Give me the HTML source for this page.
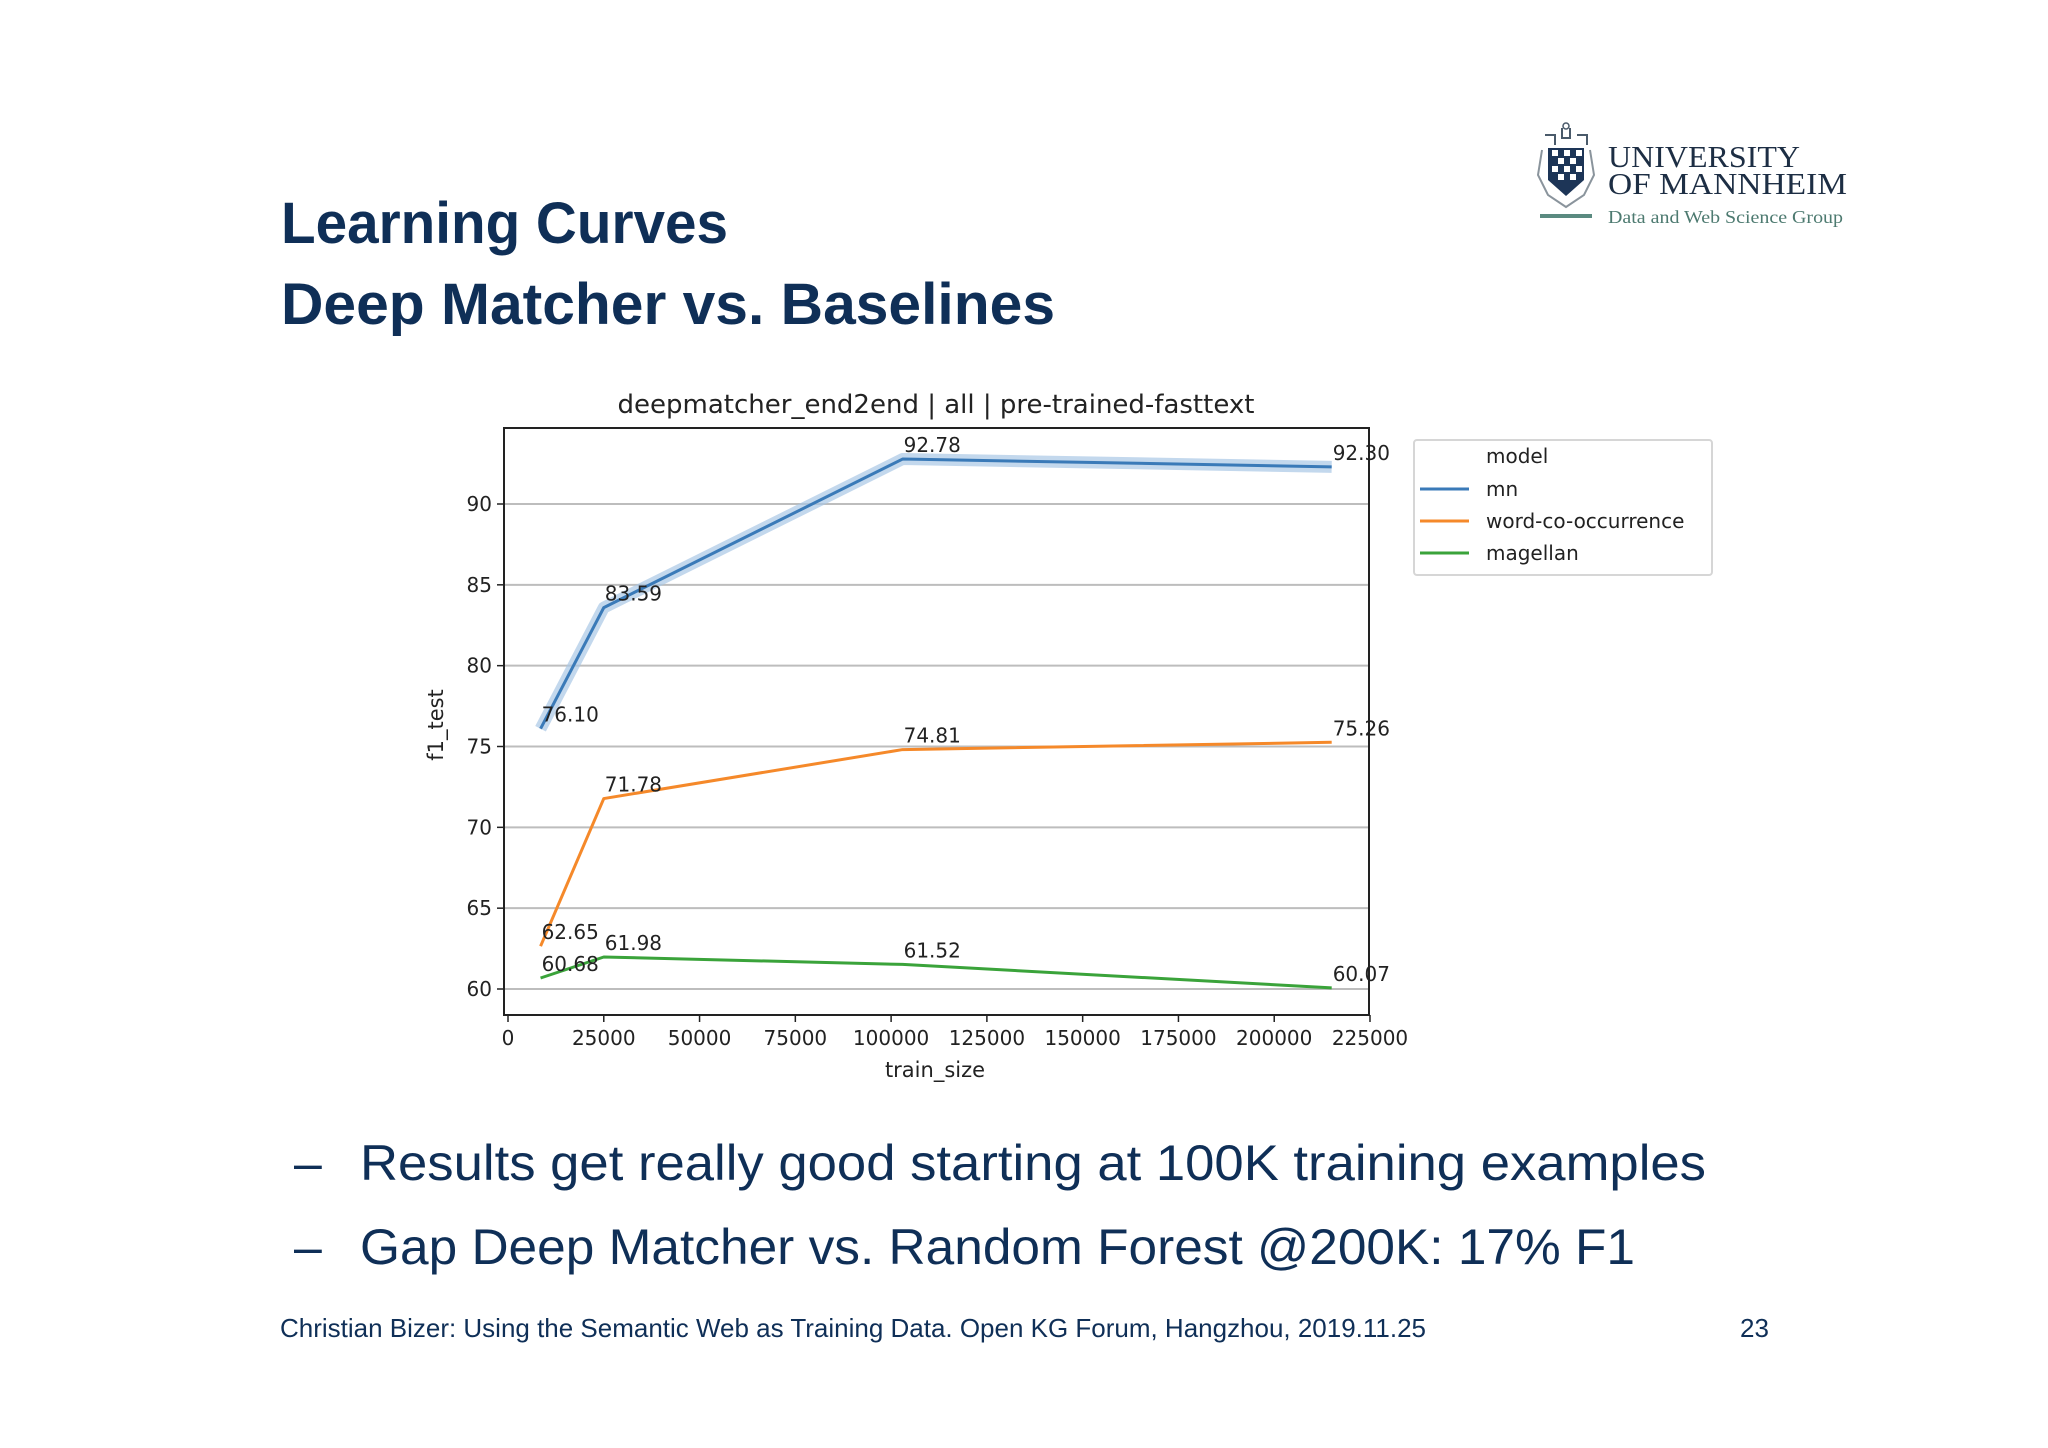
<!DOCTYPE html>
<html><head><meta charset="utf-8"><style>
html,body{margin:0;padding:0;background:#fff;}
svg{display:block;}
</style></head><body>
<svg id="slide" width="2048" height="1448" viewBox="0 0 2048 1448" xmlns="http://www.w3.org/2000/svg">
<rect width="2048" height="1448" fill="#fff"/>
<g>
  <g>
    <path d="M1542 150 L1538 175 L1548 195 L1566 207 L1584 195 L1594 175 L1590 150" fill="none" stroke="#8a949c" stroke-width="2"/>
    <path d="M1548 148 L1584 148 L1584 180 L1566 196 L1548 180 Z" fill="#1d3557"/>
    <g fill="#fff">
      <rect x="1552" y="150" width="6" height="6"/><rect x="1564" y="150" width="6" height="6"/><rect x="1576" y="150" width="6" height="6"/>
      <rect x="1558" y="158" width="6" height="6"/><rect x="1570" y="158" width="6" height="6"/>
      <rect x="1552" y="166" width="6" height="6"/><rect x="1564" y="166" width="6" height="6"/><rect x="1576" y="166" width="6" height="6"/>
      <rect x="1558" y="174" width="6" height="6"/><rect x="1570" y="174" width="6" height="6"/>
    </g>
    <path d="M1545 135 h10 v10 M1577 135 h10 v10 M1562 128 v10 h8 v-10" fill="none" stroke="#4a5a6a" stroke-width="2"/>
    <circle cx="1566" cy="126" r="3" fill="none" stroke="#4a5a6a" stroke-width="1.5"/>
  </g>
  <text x="1608" y="167" font-family="Liberation Serif, serif" font-size="31" fill="#1d2e44" textLength="192" lengthAdjust="spacingAndGlyphs">UNIVERSITY</text>
  <text x="1608" y="194" font-family="Liberation Serif, serif" font-size="31" fill="#1d2e44" textLength="239" lengthAdjust="spacingAndGlyphs">OF MANNHEIM</text>
  <rect x="1540" y="214" width="52" height="4" fill="#5a8a80"/>
  <text x="1608" y="223" font-family="Liberation Serif, serif" font-size="18" fill="#4d7a70" textLength="235" lengthAdjust="spacingAndGlyphs">Data and Web Science Group</text>
</g>
<g font-family="Liberation Sans, sans-serif" font-weight="bold" fill="#0f2f57">
  <text x="281" y="243" font-size="58" textLength="447" lengthAdjust="spacingAndGlyphs">Learning Curves</text>
  <text x="281" y="324" font-size="58" textLength="774" lengthAdjust="spacingAndGlyphs">Deep Matcher vs. Baselines</text>
</g>
<g id="chart" font-family="DejaVu Sans, sans-serif" fill="#222"></g>
<g font-family="Liberation Sans, sans-serif" fill="#0f2f57">
  <text x="294" y="1180" font-size="50">–</text>
  <text x="360" y="1180" font-size="50" textLength="1346" lengthAdjust="spacingAndGlyphs">Results get really good starting at 100K training examples</text>
  <text x="294" y="1264" font-size="50">–</text>
  <text x="360" y="1264" font-size="50" textLength="1275" lengthAdjust="spacingAndGlyphs">Gap Deep Matcher vs. Random Forest @200K: 17% F1</text>
  <text x="280" y="1337" font-size="26" textLength="1146" lengthAdjust="spacingAndGlyphs">Christian Bizer: Using the Semantic Web as Training Data. Open KG Forum, Hangzhou, 2019.11.25</text>
  <text x="1740" y="1337" font-size="26">23</text>
</g>
</svg>
<script>
const trainSizes = [8500, 25000, 103000, 215000];
const mnValues = [76.10, 83.59, 92.78, 92.30];
const wcoValues = [62.65, 71.78, 74.81, 75.26];
const magellanValues = [60.68, 61.98, 61.52, 60.07];
const xTicks = [0, 25000, 50000, 75000, 100000, 125000, 150000, 175000, 200000, 225000];
const yTicks = [60, 65, 70, 75, 80, 85, 90];
const seriesNames = ['mn', 'word-co-occurrence', 'magellan'];

const NS = 'http://www.w3.org/2000/svg';
const g = document.getElementById('chart');
const L = 504, R = 1369, T = 428, B = 1015;
const xs = v => 508 + (v / 225000) * (1370 - 508);
const ys = v => 989 - (v - 60) * (989 - 504) / 30;
function mk(tag, attrs, parent) {
  const e = document.createElementNS(NS, tag);
  for (const k in attrs) e.setAttribute(k, attrs[k]);
  (parent || g).appendChild(e);
  return e;
}
// grid
yTicks.forEach(t => {
  const ln = mk('line', {x1: L, x2: R, y1: ys(t), y2: ys(t), stroke: '#bdbdbd', 'stroke-width': 2});
  
  
  const tk = mk('line', {x1: L - 7, x2: L, y1: ys(t), y2: ys(t), stroke: '#222', 'stroke-width': 1.5});
  
  
  const tx = mk('text', {x: L - 12, y: ys(t) + 7, 'font-size': 20, 'text-anchor': 'end'});
  tx.textContent = t;
  
  
});
xTicks.forEach(t => {
  const tk = mk('line', {x1: xs(t), x2: xs(t), y1: B, y2: B + 7, stroke: '#222', 'stroke-width': 1.5});
  
  
  const tx = mk('text', {x: xs(t), y: B + 30, 'font-size': 20, 'text-anchor': 'middle'});
  tx.textContent = t;
  
  
});
const frame = mk('rect', {x: L, y: T, width: R - L, height: B - T, fill: 'none', stroke: '#222', 'stroke-width': 2});



const colors = ['#3a7ab8', '#f5892a', '#3aa33a'];
const allSeries = [mnValues, wcoValues, magellanValues];
allSeries.forEach((vals, i) => {
  const pts = vals.map((v, j) => xs(trainSizes[j]) + ',' + ys(v)).join(' ');
  if (i === 0) {
    const band = mk('polyline', {points: pts, fill: 'none', stroke: '#a9c8e6', 'stroke-width': 12, opacity: 0.7, 'stroke-linejoin': 'round'});
    
    
  }
  const pl = mk('polyline', {points: pts, fill: 'none', stroke: colors[i], 'stroke-width': 3, 'stroke-linejoin': 'round'});
  
  
  vals.forEach((v, j) => {
    const t = mk('text', {x: xs(trainSizes[j]) + 1, y: ys(v) - 7, 'font-size': 20});
    t.textContent = v.toFixed(2);
    
    
  });
});
const title = mk('text', {x: 936, y: 413, 'font-size': 26, 'text-anchor': 'middle'});
title.textContent = 'deepmatcher_end2end | all | pre-trained-fasttext';


const xl = mk('text', {x: 935, y: 1077, 'font-size': 21, 'text-anchor': 'middle'});
xl.textContent = 'train_size';


const yl = mk('text', {x: 0, y: 0, 'font-size': 21, 'text-anchor': 'middle', transform: 'translate(443,725) rotate(-90)'});
yl.textContent = 'f1_test';


// legend
const lg = mk('g', {});


mk('rect', {x: 1414, y: 440, width: 298, height: 135, fill: '#fff', stroke: '#d6d6d6', 'stroke-width': 2, rx: 3}, lg);
const lt = mk('text', {x: 1486, y: 463, 'font-size': 20}, lg);
lt.textContent = 'model';


seriesNames.forEach((n, i) => {
  const y = 489 + i * 32;
  const e = mk('g', {}, lg);
  
  
  mk('line', {x1: 1420, x2: 1469, y1: y, y2: y, stroke: colors[i], 'stroke-width': 3}, e);
  const t = mk('text', {x: 1486, y: y + 7, 'font-size': 20}, e);
  t.textContent = n;
});
</script>
</body></html>
